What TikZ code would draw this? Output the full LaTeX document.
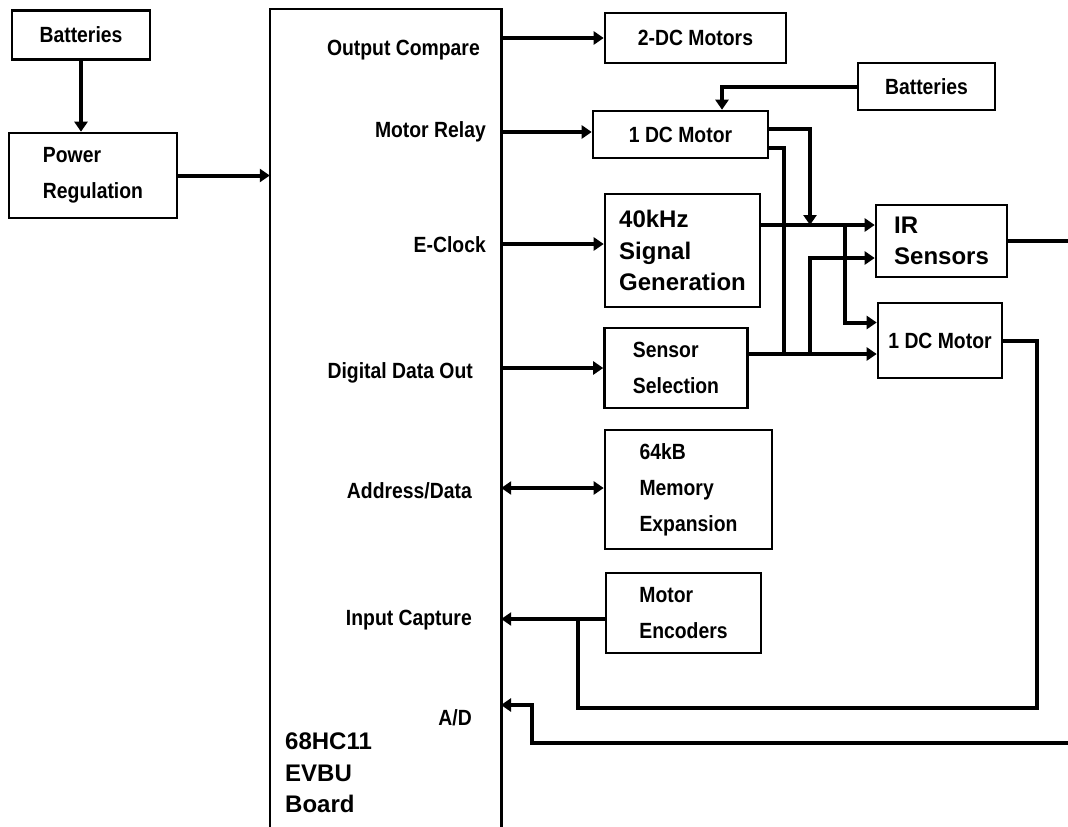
\documentclass[tikz,border=0pt]{standalone}
\usepackage{fontspec}
\setmainfont{Liberation Sans}
\newfontfamily\chicago[FakeStretch=0.88]{Liberation Sans}
\newfontfamily\geneva{Liberation Sans}
\usetikzlibrary{positioning,arrows.meta,calc}

\begin{document}
\begin{tikzpicture}[
  x=1pt, y=-1pt,
  blk/.style={draw, line width=2.6pt, align=left, inner sep=0pt,
    font=\chicago\bfseries\fontsize{22}{36}\selectfont},
  gblk/.style={blk, font=\geneva\bfseries\fontsize{24}{31.5}\selectfont},
  lbl/.style={inner sep=0pt, font=\chicago\bfseries\fontsize{22}{36}\selectfont},
  glbl/.style={inner sep=0pt, align=left,
    font=\geneva\bfseries\fontsize{24}{31.5}\selectfont},
  wire/.style={line width=4pt},
  arr/.style={wire, -{Triangle[length=10pt,width=13pt]}},
  dbl/.style={wire, {Triangle[length=10pt,width=13pt]}-{Triangle[length=10pt,width=13pt]}}
]
  \fill[white] (0,0) rectangle (1068,827);
  \useasboundingbox (0,0) rectangle (1068,827);

  % --- Left: supply ---
  \node[blk, minimum width=138pt, minimum height=49pt] (bat1) at (81,35)    {Batteries};
  \node[blk, minimum width=168pt, minimum height=85pt] (pwr)  at (93,175.5) {Power\\Regulation};

  % --- Main board (open at the bottom) ---
  \node[minimum width=231pt, minimum height=818pt, inner sep=0pt] (evbu) at (385.5,418) {};
  \draw[line width=2.6pt] (evbu.south west) -- (evbu.north west)
    -- (evbu.north east) -- (evbu.south east);

  \node[lbl, anchor=base east] (ocmp) at (480,55)  {Output Compare};
  \node[lbl, anchor=base east] (mrel) at (486,137) {Motor Relay};
  \node[lbl, anchor=base east] (eclk) at (486,252) {E-Clock};
  \node[lbl, anchor=base east] (ddo)  at (473,378) {Digital Data Out};
  \node[lbl, anchor=base east] (adat) at (472,498) {Address/Data};
  \node[lbl, anchor=base east] (icap) at (472,625) {Input Capture};
  \node[lbl, anchor=base east] (adc)  at (472,725) {A/D};
  \node[glbl, anchor=west]     (board) at (285,773) {68HC11\\EVBU\\Board};

  % --- Peripherals ---
  \node[blk, minimum width=181pt, minimum height=50pt]  (twodc) at (695.5,38)  {2-DC Motors};
  \node[blk, minimum width=175pt, minimum height=47pt]  (mot1)  at (680.5,134.5) {1 DC Motor};
  \node[blk, minimum width=137pt, minimum height=47pt]  (bat2)  at (926.5,86.5) {Batteries};
  \node[gblk, minimum width=155pt, minimum height=113pt] (sig)  at (682.5,250.5) {40kHz\\Signal\\Generation};
  \node[gblk, minimum width=131pt, minimum height=72pt] (irs)   at (941.5,241) {IR\\Sensors};
  \node[blk, minimum width=124pt, minimum height=75pt]  (mot2)  at (940,340.5) {1 DC Motor};
  \node[blk, minimum width=143pt, minimum height=80pt]  (sel)   at (676,368)   {Sensor\\Selection};
  \node[blk, minimum width=167pt, minimum height=119pt] (mem)   at (688.5,489.5) {64kB\\Memory\\Expansion};
  \node[blk, minimum width=155pt, minimum height=80pt]  (enc)   at (683.5,613) {Motor\\Encoders};

  % --- Bus positions and free ends ---
  \coordinate (busA)  at (784,0);
  \coordinate (busB)  at (810,0);
  \coordinate (busC)  at (845,0);
  \coordinate (rim)   at (1068,0);
  \coordinate (loopR) at (1037,708);
  \coordinate (loopL) at (578,0);
  \coordinate (adx)   at (532,0);
  \coordinate (adlow) at (1068,743);
  \coordinate (adin)  at (501,705);
  \coordinate (irin1) at ([yshift=16pt]irs.west);
  \coordinate (irin2) at ([yshift=-17pt]irs.west);
  \coordinate (m2in1) at ([yshift=18pt]mot2.west);
  \coordinate (m2in2) at ([yshift=-13.5pt]mot2.west);
  \coordinate (encout) at ([yshift=-6pt]enc.west);

  % --- Supply arrows ---
  \draw[arr] (bat1.south) -- (bat1.south |- pwr.north);
  \draw[arr] (pwr.east) -- (pwr.east -| evbu.west);

  % --- Board outputs ---
  \draw[arr] (evbu.east |- twodc.west) -- (twodc.west);
  \draw[arr] (evbu.east |- 0,132) -- (mot1.west |- 0,132);
  \draw[arr] (evbu.east |- 0,244) -- (sig.west |- 0,244);
  \draw[arr] (evbu.east |- sel.west) -- (sel.west);
  \draw[dbl] (evbu.east |- 0,488) -- (mem.west |- 0,488);
  \draw[arr] (encout) -- (evbu.east |- encout);
  \draw[arr] (adlow) -| (adx |- adin) -- (adin);

  % --- Motor / sensor wiring ---
  \draw[arr] (bat2.west) -| ([xshift=41.5pt]mot1.north);
  \draw[arr] ([yshift=5.5pt]mot1.east) -| (busB |- irin1);
  \draw[wire] ([yshift=-13pt]mot1.east) -| (busA |- m2in2);
  \draw[arr] (sig.east |- irin1) -- (irin1);
  \draw[arr] (busC |- irin1) |- (m2in1);
  \draw[arr] (sel.east |- m2in2) -- (m2in2);
  \draw[arr] (busB |- m2in2) |- (irin2);
  \draw[wire] (irs.east) -- (irs.east -| rim);
  \draw[wire] (mot2.east) -| (loopR) -| (loopL |- encout);
\end{tikzpicture}
\end{document}
